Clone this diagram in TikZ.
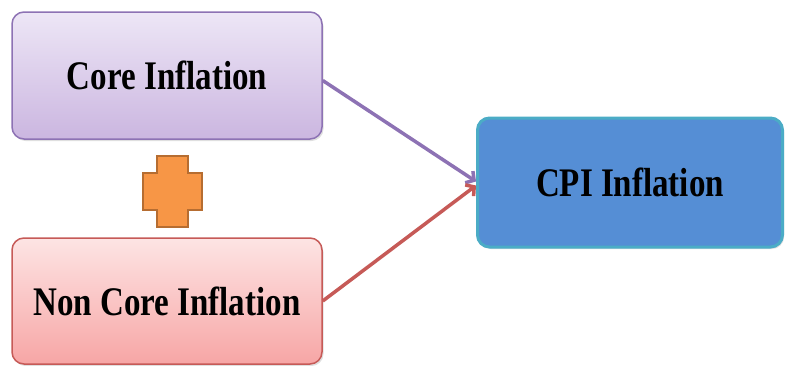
\documentclass[tikz,border=0pt]{standalone}
\usepackage{fontspec}
\setmainfont{Liberation Serif}
\usetikzlibrary{arrows.meta,positioning,shadows}
\definecolor{lavtop}{HTML}{EDE6F6}
\definecolor{lavbot}{HTML}{CBB6E0}
\definecolor{lavline}{HTML}{8D72B4}
\definecolor{rosetop}{HTML}{FDE4E4}
\definecolor{rosebot}{HTML}{F7A6A5}
\definecolor{roseline}{HTML}{C65A57}
\definecolor{cpifill}{HTML}{558ED5}
\definecolor{cpiline}{HTML}{4BACC6}
\definecolor{plusfill}{HTML}{F79646}
\definecolor{plusline}{HTML}{B66D31}
\newcommand{\tallword}[1]{\scalebox{1}[1.23]{#1}}

\begin{document}
\begin{tikzpicture}[x=1pt, y=-1pt,
  font=\bfseries\fontsize{33}{38}\selectfont,
  box/.style={rounded corners=12pt, align=center, inner sep=0pt, line width=1.5pt,
    drop shadow={opacity=0.25, shadow xshift=1.5pt, shadow yshift=-2pt}},
  corebox/.style={box, draw=lavline, top color=lavtop, bottom color=lavbot,
    minimum width=310pt, minimum height=127pt},
  noncorebox/.style={box, draw=roseline, top color=rosetop, bottom color=rosebot,
    minimum width=310pt, minimum height=126pt},
  cpibox/.style={box, draw=cpiline, fill=cpifill, line width=3pt,
    minimum width=305pt, minimum height=129pt},
  plusmark/.style={draw=plusline, fill=plusfill, line width=1.5pt},
  link/.style={line width=3.5pt, -{Straight Barb[length=6pt, width=14pt]}}]
\useasboundingbox (0,0) rectangle (785,365);
\node[corebox] (core) at (167,75.5) {\tallword{Core Inflation}};
\node[noncorebox] (noncore) at (167,301) {\tallword{Non Core Inflation}};
\node[cpibox] (cpi) at (630,182.5) {\tallword{CPI Inflation}};
% plus sign between the two inputs
\draw[plusmark] (157,156) -- (188,156) -- (188,173) -- (202,173) -- (202,210)
  -- (188,210) -- (188,227) -- (157,227) -- (157,210) -- (143,210) -- (143,173)
  -- (157,173) -- cycle;
\draw[link, draw=lavline] ([yshift=-5pt]core.east) -- ([yshift=1pt]cpi.west);
\draw[link, draw=roseline] (noncore.east) -- ([yshift=-3pt]cpi.west);
\end{tikzpicture}
\end{document}
